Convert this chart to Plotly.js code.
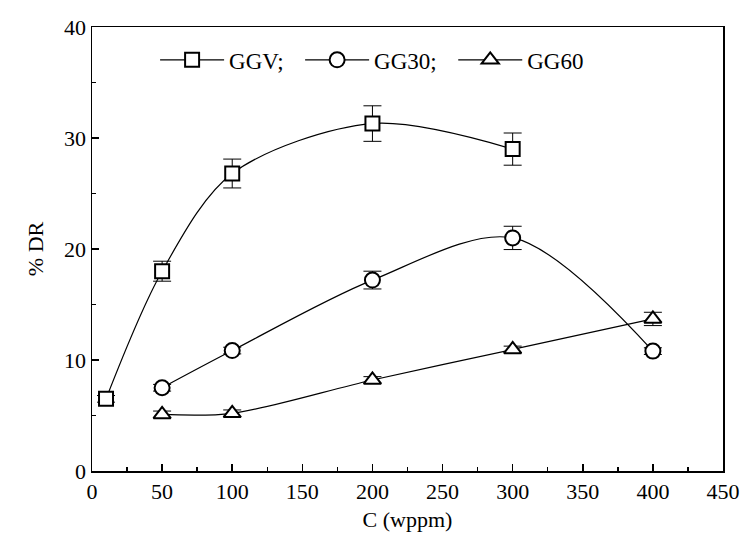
<!DOCTYPE html>
<html>
<head>
<meta charset="utf-8">
<script src="https://cdn.plot.ly/plotly-3.0.1.min.js"></script>
<style>html,body{margin:0;padding:0;background:#fff;}#chart{width:753px;height:556px;}</style>
</head>
<body>
<div id="chart"></div>
<script>
// Data
const ggvX = [10, 50, 100, 200, 300];
const ggvY = [6.5, 18.0, 26.8, 31.3, 29.0];
const ggvErr = [0.3, 0.9, 1.3, 1.6, 1.45];

const gg30X = [50, 100, 200, 300, 400];
const gg30Y = [7.5, 10.85, 17.2, 21.0, 10.8];
const gg30Err = [0.3, 0.3, 0.8, 1.05, 0.3];

const gg60X = [50, 100, 200, 300, 400];
const gg60Y = [5.1, 5.2, 8.2, 10.95, 13.7];
const gg60Err = [0.3, 0.3, 0.3, 0.3, 0.6];

const seriesNames = ['GGV;\u00a0\u00a0', 'GG30;\u00a0\u00a0', 'GG60'];
const xTicks = [0, 50, 100, 150, 200, 250, 300, 350, 400, 450];
const yTicks = [0, 10, 20, 30, 40];

const FONT = 'Liberation Serif, Times New Roman, serif';

function trace(x, y, err, name, symbol, size) {
  return {
    x: x, y: y, name: name, type: 'scatter', mode: 'lines+markers',
    line: {shape: 'spline', smoothing: 0.9, color: '#000', width: 1.2},
    marker: {symbol: symbol, size: size, color: '#fff', line: {color: '#000', width: 2}},
    error_y: {type: 'data', array: err, visible: true, color: '#000', thickness: 1, width: 9}
  };
}

const data = [
  trace(ggvX, ggvY, ggvErr, seriesNames[0], 'square', 14),
  trace(gg30X, gg30Y, gg30Err, seriesNames[1], 'circle', 15),
  trace(gg60X, gg60Y, gg60Err, seriesNames[2], 'triangle-up', 15)
];

const layout = {
  width: 753, height: 556,
  margin: {l: 92, r: 30, t: 27, b: 85},
  paper_bgcolor: '#fff', plot_bgcolor: '#fff',
  font: {family: FONT, size: 22, color: '#000'},
  showlegend: true,
  legend: {
    orientation: 'h', x: 0.1, y: 0.926, xanchor: 'left', yanchor: 'middle',
    bgcolor: 'rgba(0,0,0,0)', font: {family: FONT, size: 23, color: '#000'},
    itemwidth: 64
  },
  xaxis: {
    range: [0, 450], tickvals: xTicks, ticktext: xTicks.map(String),
    ticks: 'inside', ticklen: 7, tickwidth: 1.5, tickcolor: '#000',
    minor: {dtick: 25, ticks: 'inside', ticklen: 4, tickcolor: '#000', tickwidth: 1.5},
    showline: true, linecolor: '#000', linewidth: 1.5, mirror: true,
    showgrid: false, zeroline: false,
    tickfont: {family: FONT, size: 22},
    title: {text: 'C (wppm)', font: {family: FONT, size: 22}, standoff: 8}
  },
  yaxis: {
    range: [0, 40], tickvals: yTicks, ticktext: yTicks.map(String),
    ticks: 'inside', ticklen: 7, tickwidth: 1.5, tickcolor: '#000',
    minor: {dtick: 5, ticks: 'inside', ticklen: 4, tickcolor: '#000', tickwidth: 1.5},
    showline: true, linecolor: '#000', linewidth: 1.5, mirror: true,
    showgrid: false, zeroline: false,
    tickfont: {family: FONT, size: 22},
    title: {text: '% DR', font: {family: FONT, size: 22}, standoff: 14}
  }
};

Plotly.newPlot('chart', data, layout, {displayModeBar: false, staticPlot: true});
</script>
</body>
</html>
